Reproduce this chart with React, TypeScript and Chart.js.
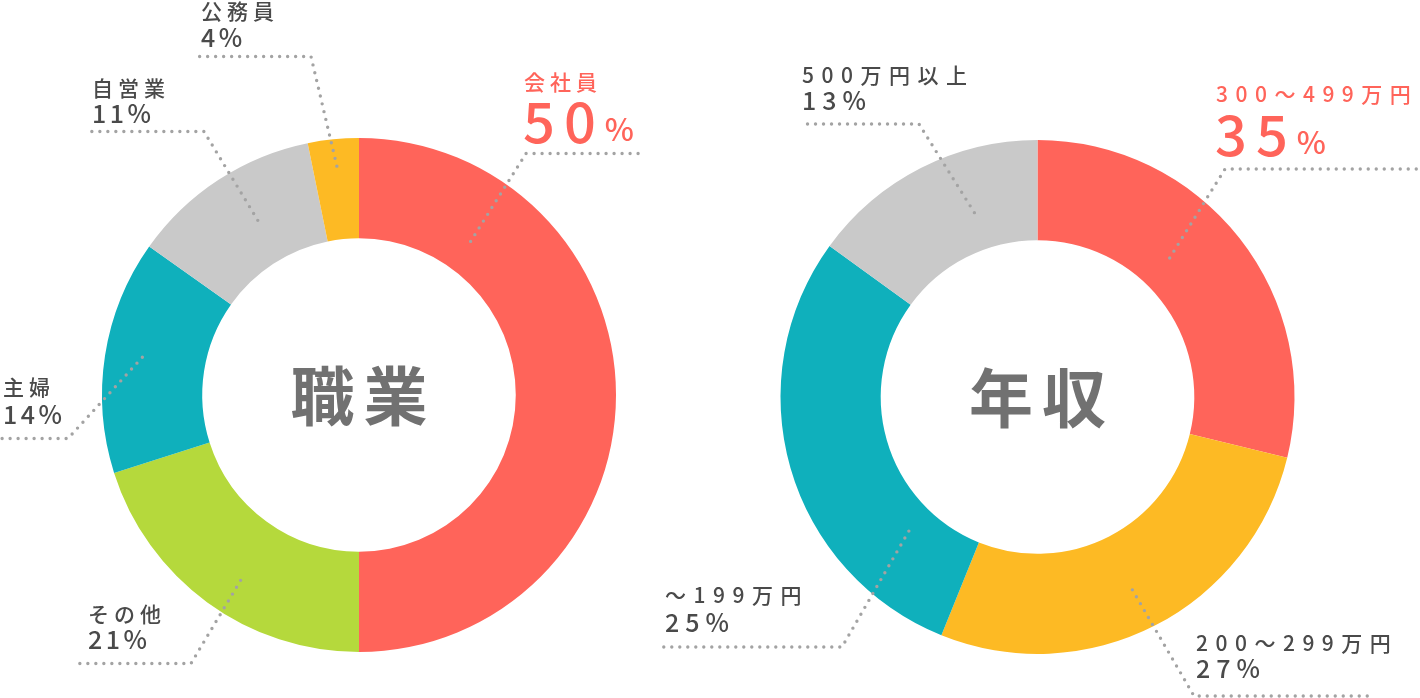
import React, { useEffect, useRef } from 'react';
import { Chart, ArcElement, DoughnutController } from 'chart.js';

Chart.register(ArcElement, DoughnutController);

// ---- data: 職業 (occupation) ----
const jobTitle = '職業';
const jobLabels = ['会社員', 'その他', '主婦', '自営業', '公務員'];
const jobPercentText = [50, 21, 14, 11, 4];
// arc sizes as drawn in the picture (percent of circle)
const jobArcValues = [50, 20.1, 14.7, 12.0, 3.2];
const jobColors = ['#FF645A', '#B5D93C', '#0FB0BC', '#C9C9C9', '#FDBA24'];

// ---- data: 年収 (annual income) ----
const incomeTitle = '年収';
const incomeLabels = ['300～499万円', '200～299万円', '～199万円', '500万円以上'];
const incomePercentText = [35, 27, 25, 13];
const incomeArcValues = [28.8, 27.3, 28.9, 15.0];
const incomeColors = ['#FF645A', '#FDBA24', '#0FB0BC', '#C9C9C9'];

const FONT = "'Noto Sans CJK JP', 'Noto Sans', sans-serif";
const TEXT_DARK = '#4A4A4A';
const TEXT_RED = '#FF645A';
const DOT = '#A3A3A3';

type LeaderLayout = {
  t: number; // fraction along the segment's angle
  rf: number; // fraction between inner and outer radius
  elbow: [number, number];
  end: [number, number];
  tx: number;
  ty1: number;
  ty2: number;
  highlight?: boolean;
};

const jobLayout: LeaderLayout[] = [
  { t: 0.2, rf: 0.33, elbow: [167, -241.5], end: [281, -241.5], tx: 165, ty1: -313, ty2: -273.5, highlight: true },
  { t: 0.45, rf: 0.63, elbow: [-168, 268.5], end: [-283, 268.5], tx: -271, ty1: 219.5, ty2: 244.5 },
  { t: 0.52, rf: 0.63, elbow: [-291, 43.5], end: [-362, 43.5], tx: -356, ty1: -7.5, ty2: 19.5 },
  { t: 0.57, rf: 0.45, elbow: [-155, -263.5], end: [-271, -263.5], tx: -267, ty1: -307, ty2: -281.5 },
  { t: 0.52, rf: 0.73, elbow: [-48, -338.5], end: [-161, -338.5], tx: -158, ty1: -383.5, ty2: -358 },
];

const incomeLayout: LeaderLayout[] = [
  { t: 0.42, rf: 0.35, elbow: [187.5, -228], end: [380.5, -228], tx: 178.5, ty1: -303, ty2: -262, highlight: true },
  { t: 0.51, rf: 0.58, elbow: [156.5, 299], end: [332.5, 299], tx: 158.5, ty1: 246, ty2: 271 },
  { t: 0.21, rf: 0.29, elbow: [-195.5, 250], end: [-374.5, 250], tx: -372.5, ty1: 198, ty2: 225 },
  { t: 0.65, rf: 0.38, elbow: [-118.5, -273], end: [-231.5, -273], tx: -235.5, ty1: -322, ty2: -297 },
];

type ChartCfg = {
  title: string;
  labels: string[];
  pct: number[];
  layout: LeaderLayout[];
  nameSpacing: number;
  pctSpacing: number;
  nameSize: number;
};

function drawSpaced(ctx: CanvasRenderingContext2D, text: string, x: number, y: number, spacing: number) {
  (ctx as any).letterSpacing = spacing + 'px';
  ctx.fillText(text, x, y);
  const w = ctx.measureText(text).width;
  (ctx as any).letterSpacing = '0px';
  return w;
}

function makeLeaderPlugin(cfg: ChartCfg) {
  return {
    id: 'leaderLabels',
    afterDraw(chart: any) {
      const ctx: CanvasRenderingContext2D = chart.ctx;
      const meta = chart.getDatasetMeta(0);
      let cx = 0;
      let cy = 0;
      ctx.save();
      meta.data.forEach((arc: any, i: number) => {
        const p = arc.getProps(['x', 'y', 'startAngle', 'endAngle', 'innerRadius', 'outerRadius'], true);
        cx = p.x;
        cy = p.y;
        const L = cfg.layout[i];
        const a = p.startAngle + (p.endAngle - p.startAngle) * L.t;
        const r = p.innerRadius + (p.outerRadius - p.innerRadius) * L.rf;
        const sx = p.x + Math.cos(a) * r;
        const sy = p.y + Math.sin(a) * r;

        // dotted leader
        ctx.beginPath();
        ctx.setLineDash([0, 8]);
        ctx.lineCap = 'round';
        ctx.lineWidth = 3.4;
        ctx.strokeStyle = DOT;
        ctx.moveTo(sx, sy);
        ctx.lineTo(p.x + L.elbow[0], p.y + L.elbow[1]);
        ctx.lineTo(p.x + L.end[0], p.y + L.end[1]);
        ctx.stroke();
        ctx.setLineDash([]);

        // text
        ctx.textAlign = 'left';
        ctx.textBaseline = 'middle';
        const x = p.x + L.tx;
        if (L.highlight) {
          ctx.fillStyle = TEXT_RED;
          ctx.font = `500 ${cfg.nameSize}px ${FONT}`;
          drawSpaced(ctx, cfg.labels[i], x, p.y + L.ty1, cfg.nameSpacing);
          ctx.font = `500 56px ${FONT}`;
          const w = drawSpaced(ctx, String(cfg.pct[i]), x - 1, p.y + L.ty2, 9);
          ctx.font = `500 31px ${FONT}`;
          drawSpaced(ctx, '%', x - 1 + w, p.y + L.ty2 + 7.5, 0);
        } else {
          ctx.fillStyle = TEXT_DARK;
          ctx.font = `500 ${cfg.nameSize}px ${FONT}`;
          drawSpaced(ctx, cfg.labels[i], x, p.y + L.ty1, cfg.nameSpacing);
          ctx.font = `500 25px ${FONT}`;
          drawSpaced(ctx, cfg.pct[i] + '%', x, p.y + L.ty2, cfg.pctSpacing);
        }
      });

      // centre title
      ctx.fillStyle = '#717171';
      ctx.font = `700 64px ${FONT}`;
      ctx.textBaseline = 'middle';
      const sp = 9;
      (ctx as any).letterSpacing = sp + 'px';
      const tw = ctx.measureText(cfg.title).width - sp;
      ctx.fillText(cfg.title, cx - tw / 2, cy + 1);
      (ctx as any).letterSpacing = '0px';
      ctx.restore();
    },
  };
}

function Doughnut(props: {
  values: number[];
  colors: string[];
  padding: { left: number; right: number; top: number; bottom: number };
  cfg: ChartCfg;
}) {
  const ref = useRef<HTMLCanvasElement | null>(null);
  useEffect(() => {
    if (!ref.current) return;
    const chart = new Chart(ref.current, {
      type: 'doughnut',
      data: {
        labels: props.cfg.labels,
        datasets: [
          {
            data: props.values,
            backgroundColor: props.colors,
            borderWidth: 0,
            hoverOffset: 0,
          },
        ],
      },
      options: {
        responsive: false,
        animation: false,
        cutout: '61%',
        layout: { padding: props.padding },
        events: [],
        plugins: {
          legend: { display: false },
          tooltip: { enabled: false },
        },
      } as any,
      plugins: [makeLeaderPlugin(props.cfg) as any],
    });
    return () => chart.destroy();
  }, []);
  return (
    <canvas
      ref={ref}
      width={1420}
      height={698}
      style={{ position: 'absolute', left: 0, top: 0, width: 1420, height: 698 }}
    />
  );
}

export default function App() {
  return (
    <div style={{ position: 'absolute', left: 0, top: 0, width: 1420, height: 698, background: '#fff', overflow: 'hidden' }}>
      <Doughnut
        values={jobArcValues}
        colors={jobColors}
        padding={{ left: 102, right: 804, top: 138, bottom: 46 }}
        cfg={{ title: jobTitle, labels: jobLabels, pct: jobPercentText, layout: jobLayout, nameSpacing: 5, pctSpacing: 3.5, nameSize: 21 }}
      />
      <Doughnut
        values={incomeArcValues}
        colors={incomeColors}
        padding={{ left: 780, right: 125, top: 140, bottom: 44 }}
        cfg={{ title: incomeTitle, labels: incomeLabels, pct: incomePercentText, layout: incomeLayout, nameSpacing: 7.5, pctSpacing: 6, nameSize: 21 }}
      />
    </div>
  );
}
